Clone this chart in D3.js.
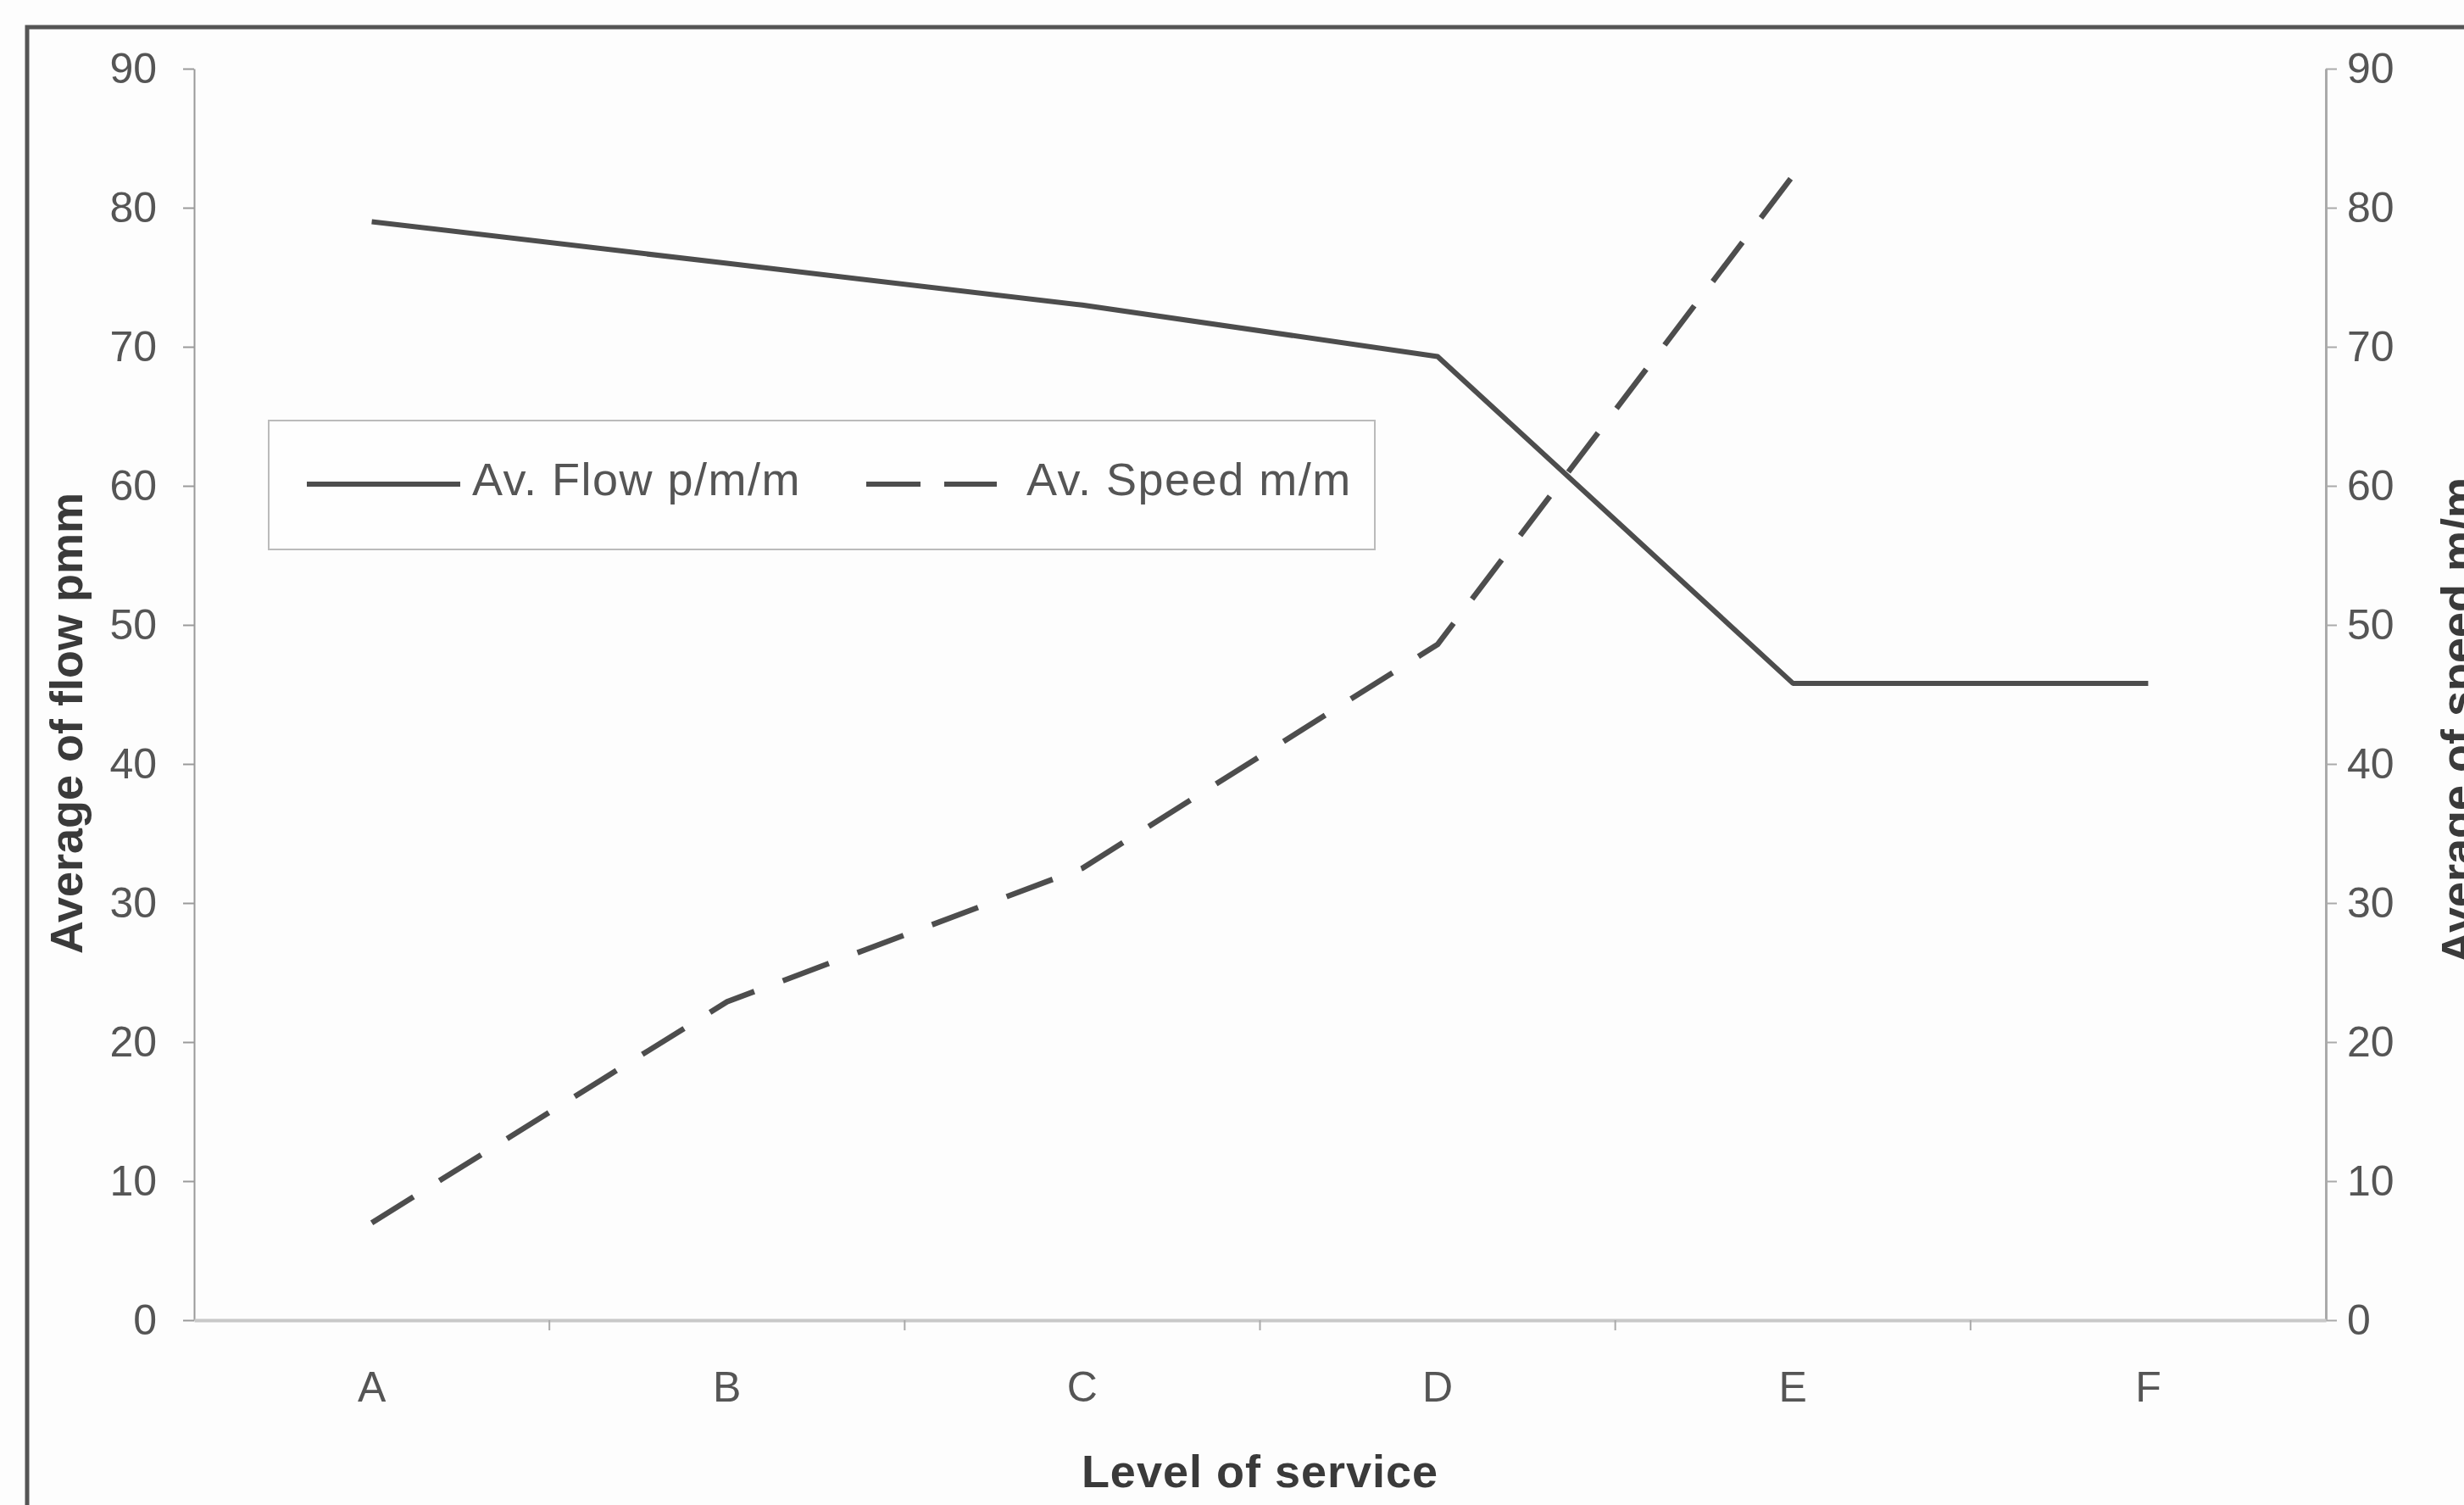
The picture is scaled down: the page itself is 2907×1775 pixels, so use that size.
<!DOCTYPE html>
<html>
<head>
<meta charset="utf-8">
<script src="https://cdn.jsdelivr.net/npm/d3@7"></script>
<style>
  html, body { margin: 0; padding: 0; background: #fdfdfd; }
  svg { display: block; font-family: "Liberation Sans", Arial, sans-serif; }
</style>
</head>
<body>
<div id="chart"></div>
<script>
// data
const levels = ["A", "B", "C", "D", "E", "F"];
const flowValues = [79, 76, 73, 69.3, 45.8, 45.8];
const speedValues = [7, 22.9, 32.5, 48.6, 82.3, null];
const yTicks = [0, 10, 20, 30, 40, 50, 60, 70, 80, 90];
const seriesNames = ["Av. Flow p/m/m", "Av. Speed m/m"];

const width = 2907;
const height = 1775;

const svg = d3.select("#chart")
  .append("svg")
  .attr("width", width)
  .attr("height", height);

svg.append("rect")
  .attr("width", width)
  .attr("height", height)
  .attr("fill", "#fdfdfd");

// outer frame (cropped on right and bottom)
svg.append("rect")
  .attr("x", 32)
  .attr("y", 32)
  .attr("width", 3000)
  .attr("height", 2000)
  .attr("fill", "none")
  .attr("stroke", "#555")
  .attr("stroke-width", 5);

const plotLeft = 229;
const plotRight = 2744;
const plotTop = 81;
const plotBottom = 1557;

const x = d3.scaleBand().domain(levels).range([plotLeft, plotRight]);
const xc = (d) => x(d) + x.bandwidth() / 2;
const yLeft = d3.scaleLinear().domain([0, 90]).range([plotBottom, plotTop]);
const yRight = d3.scaleLinear().domain([0, 90]).range([plotBottom, plotTop]);

// left axis
const leftAxis = svg.append("g")
  .attr("transform", `translate(${plotLeft},0)`)
  .call(d3.axisLeft(yLeft).tickValues(yTicks).tickSize(13).tickSizeOuter(0).tickPadding(31));
leftAxis.select(".domain").attr("stroke", "#9a9a9a").attr("stroke-width", 2);
leftAxis.selectAll(".tick line").attr("stroke", "#9a9a9a").attr("stroke-width", 2);
leftAxis.selectAll("text")
  .attr("fill", "#555")
  .style("font-size", "50px");

// right axis
const rightAxis = svg.append("g")
  .attr("transform", `translate(${plotRight},0)`)
  .call(d3.axisRight(yRight).tickValues(yTicks).tickSize(13).tickSizeOuter(0).tickPadding(12));
rightAxis.select(".domain").attr("stroke", "#aaa").attr("stroke-width", 3);
rightAxis.selectAll(".tick line").attr("stroke", "#aaa").attr("stroke-width", 2);
rightAxis.selectAll("text")
  .attr("fill", "#555")
  .style("font-size", "50px");

// bottom axis
const bottomAxis = svg.append("g")
  .attr("transform", `translate(0,${plotBottom})`)
  .call(d3.axisBottom(x).tickSize(0).tickSizeOuter(0).tickPadding(60));
bottomAxis.select(".domain").attr("stroke", "#c8c8c8").attr("stroke-width", 4);
bottomAxis.selectAll("text")
  .attr("fill", "#555")
  .style("font-size", "50px");

// tick marks between categories
bottomAxis.selectAll(".sep")
  .data(levels.slice(1))
  .enter()
  .append("line")
  .attr("class", "sep")
  .attr("x1", (d) => x(d))
  .attr("x2", (d) => x(d))
  .attr("y1", 0)
  .attr("y2", 12)
  .attr("stroke", "#aaa")
  .attr("stroke-width", 2);

// axis titles
svg.append("text")
  .attr("transform", "translate(97,853) rotate(-90)")
  .attr("text-anchor", "middle")
  .attr("fill", "#3a3a3a")
  .style("font-size", "54px")
  .style("font-weight", "bold")
  .text("Average of flow pmm");

svg.append("text")
  .attr("transform", "translate(2918,850) rotate(-90)")
  .attr("text-anchor", "middle")
  .attr("fill", "#3a3a3a")
  .style("font-size", "54px")
  .style("font-weight", "bold")
  .text("Average of speed m/m");

svg.append("text")
  .attr("x", (plotLeft + plotRight) / 2)
  .attr("y", 1754)
  .attr("text-anchor", "middle")
  .attr("fill", "#3a3a3a")
  .style("font-size", "54px")
  .style("font-weight", "bold")
  .style("letter-spacing", "1px")
  .text("Level of service");

// series lines
const flowLine = d3.line()
  .x((d, i) => xc(levels[i]))
  .y((d) => yLeft(d));

const speedLine = d3.line()
  .defined((d) => d !== null)
  .x((d, i) => xc(levels[i]))
  .y((d) => yRight(d));

svg.append("path")
  .datum(flowValues)
  .attr("d", flowLine)
  .attr("fill", "none")
  .attr("stroke", "#4d4d4d")
  .attr("stroke-width", 6)
  .attr("stroke-linejoin", "round");

svg.append("path")
  .datum(speedValues)
  .attr("d", speedLine)
  .attr("fill", "none")
  .attr("stroke", "#4d4d4d")
  .attr("stroke-width", 6.5)
  .attr("stroke-dasharray", "58 36");

// legend
const legend = svg.append("g");
legend.append("rect")
  .attr("x", 317)
  .attr("y", 496)
  .attr("width", 1305)
  .attr("height", 152)
  .attr("fill", "#fefefe")
  .attr("stroke", "#bbb")
  .attr("stroke-width", 2);

const legendItems = [
  { name: seriesNames[0], x0: 362, x1: 543, tx: 557, dash: null },
  { name: seriesNames[1], x0: 1022, x1: 1176, tx: 1211, dash: "64 28" }
];

legendItems.forEach((item) => {
  legend.append("line")
    .attr("x1", item.x0)
    .attr("x2", item.x1)
    .attr("y1", 571)
    .attr("y2", 571)
    .attr("stroke", "#4d4d4d")
    .attr("stroke-width", 6)
    .attr("stroke-dasharray", item.dash);
  legend.append("text")
    .attr("x", item.tx)
    .attr("y", 584)
    .attr("fill", "#555")
    .style("font-size", "54px")
    .style("letter-spacing", "1.5px")
    .text(item.name);
});
</script>
</body>
</html>
